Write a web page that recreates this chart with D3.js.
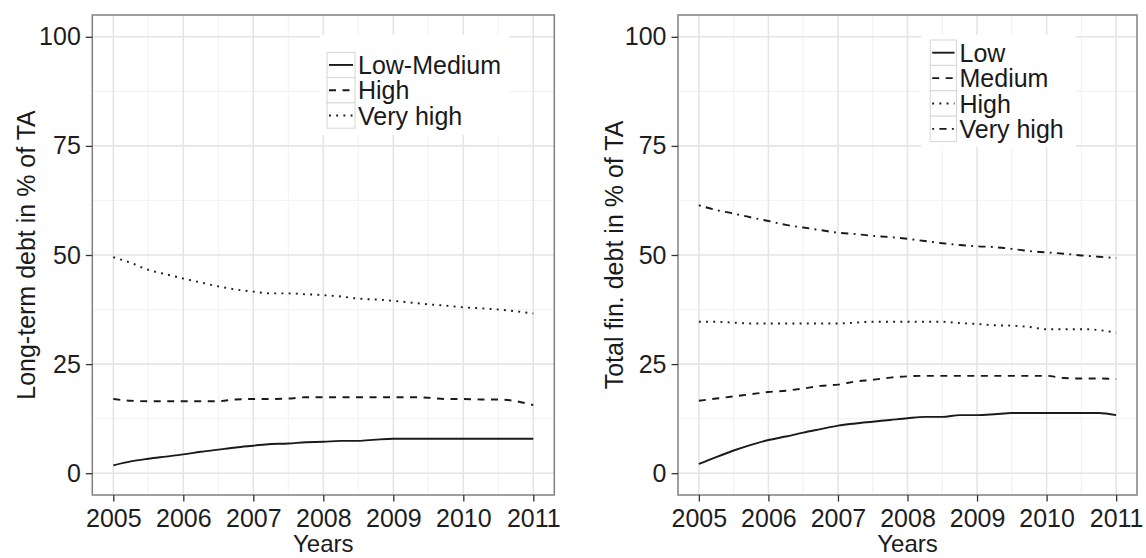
<!DOCTYPE html>
<html>
<head>
<meta charset="utf-8">
<script src="https://cdn.jsdelivr.net/npm/d3@7"></script>
<style>
  html, body { margin: 0; padding: 0; background: #ffffff; }
  svg { display: block; }
  text { font-family: "Liberation Sans", Arial, sans-serif; }
</style>
</head>
<body>
<svg id="chart" width="1146" height="558"></svg>
<script>
// Observation times (quarter-year steps)
const years = [2005, 2005.25, 2005.5, 2005.75, 2006, 2006.25, 2006.5, 2006.75,
               2007, 2007.25, 2007.5, 2007.75, 2008, 2008.25, 2008.5, 2008.75,
               2009, 2009.25, 2009.5, 2009.75, 2010, 2010.25, 2010.5, 2010.75, 2011];

// Long-term debt in % of total assets, by leverage group
const ltLowMedium = [1.8, 2.7, 3.3, 3.8, 4.3, 4.9, 5.4, 5.9, 6.3, 6.7, 6.8, 7.1, 7.2,
                     7.4, 7.4, 7.7, 7.9, 7.9, 7.9, 7.9, 7.9, 7.9, 7.9, 7.9, 7.9];
const ltHigh      = [17.0, 16.6, 16.5, 16.5, 16.5, 16.5, 16.5, 16.9, 17.0, 17.0, 17.1, 17.4, 17.4,
                     17.4, 17.4, 17.4, 17.4, 17.4, 17.3, 17.0, 17.0, 16.9, 16.9, 16.5, 15.6];
const ltVeryHigh  = [49.5, 48.2, 46.6, 45.6, 44.6, 43.7, 42.8, 42.1, 41.6, 41.2, 41.2, 41.0, 40.8,
                     40.5, 40.0, 39.8, 39.5, 39.1, 38.7, 38.4, 38.0, 37.8, 37.5, 37.1, 36.6];

// Total financial debt in % of total assets, by leverage group
const tfLow      = [2.1, 3.7, 5.2, 6.5, 7.6, 8.4, 9.3, 10.1, 10.9, 11.4, 11.8, 12.2, 12.6,
                    12.9, 12.9, 13.3, 13.3, 13.5, 13.8, 13.8, 13.8, 13.8, 13.8, 13.8, 13.3];
const tfMedium   = [16.6, 17.1, 17.6, 18.1, 18.6, 18.9, 19.4, 20.0, 20.3, 21.0, 21.4, 21.9, 22.2,
                    22.3, 22.3, 22.3, 22.3, 22.3, 22.3, 22.3, 22.3, 21.8, 21.7, 21.7, 21.6];
const tfHigh     = [34.7, 34.7, 34.5, 34.3, 34.3, 34.3, 34.3, 34.3, 34.3, 34.5, 34.7, 34.7, 34.7,
                    34.7, 34.7, 34.4, 34.2, 33.9, 33.8, 33.5, 33.0, 33.0, 33.0, 32.8, 32.2];
const tfVeryHigh = [61.4, 60.3, 59.5, 58.6, 57.8, 56.9, 56.3, 55.7, 55.1, 54.8, 54.4, 54.1, 53.7,
                    53.2, 52.7, 52.3, 52.0, 51.8, 51.4, 50.9, 50.6, 50.3, 49.9, 49.6, 49.3];

// Axis tick labels
const xTicks = [2005, 2006, 2007, 2008, 2009, 2010, 2011];
const yTicks = [0, 25, 50, 75, 100];
const xMinor = [2005.5, 2006.5, 2007.5, 2008.5, 2009.5, 2010.5];
const yMinor = [12.5, 37.5, 62.5, 87.5];

// Series names
const ltNames = ["Low-Medium", "High", "Very high"];
const tfNames = ["Low", "Medium", "High", "Very high"];

// Line types (solid, dashed, dotted, dot-dash)
const dashSolid = null, dashDashed = "7,6.5", dashDotted = "1.9,5.3", dashDotDash = "1.9,5.3,7.2,5.3";

const svg = d3.select("#chart");
const ink = "#1a1a1a";

function drawPanel(cfg) {
  const x = d3.scaleLinear().domain([2004.7, 2011.3]).range([cfg.left, cfg.right]);
  const y = d3.scaleLinear().domain([-5, 105]).range([cfg.bottom, cfg.top]);
  const g = svg.append("g");

  // Panel background
  g.append("rect").attr("x", cfg.left).attr("y", cfg.top)
    .attr("width", cfg.right - cfg.left).attr("height", cfg.bottom - cfg.top)
    .attr("fill", "#ffffff");

  // Minor grid
  g.selectAll(".vminor").data(xMinor).enter().append("line")
    .attr("x1", d => x(d)).attr("x2", d => x(d)).attr("y1", cfg.top).attr("y2", cfg.bottom)
    .attr("stroke", "#f3f3f3").attr("stroke-width", 1.2);
  g.selectAll(".hminor").data(yMinor).enter().append("line")
    .attr("y1", d => y(d)).attr("y2", d => y(d)).attr("x1", cfg.left).attr("x2", cfg.right)
    .attr("stroke", "#f3f3f3").attr("stroke-width", 1.2);
  // Major grid
  g.selectAll(".vmajor").data(xTicks).enter().append("line")
    .attr("x1", d => x(d)).attr("x2", d => x(d)).attr("y1", cfg.top).attr("y2", cfg.bottom)
    .attr("stroke", "#e5e5e5").attr("stroke-width", 1.6);
  g.selectAll(".hmajor").data(yTicks).enter().append("line")
    .attr("y1", d => y(d)).attr("y2", d => y(d)).attr("x1", cfg.left).attr("x2", cfg.right)
    .attr("stroke", "#e5e5e5").attr("stroke-width", 1.6);

  // Series lines
  const line = d3.line().x((d, i) => x(years[i])).y(d => y(d)).curve(d3.curveMonotoneX);
  cfg.series.forEach((s, i) => {
    g.append("path").datum(s).attr("d", line)
      .attr("fill", "none").attr("stroke", ink).attr("stroke-width", 1.9)
      .attr("stroke-dasharray", cfg.dashes[i]);
  });

  // Legend
  const L = cfg.legend;
  const lg = g.append("g");
  lg.append("rect").attr("x", L.bx0).attr("y", L.by0)
    .attr("width", L.bx1 - L.bx0).attr("height", L.by1 - L.by0).attr("fill", "#ffffff");
  cfg.names.forEach((name, i) => {
    const ky = L.ky + i * L.kh;
    lg.append("rect").attr("x", L.kx).attr("y", ky).attr("width", L.kw).attr("height", L.kh)
      .attr("fill", "#ffffff").attr("stroke", "#d6d6d6").attr("stroke-width", 1);
    lg.append("line").attr("x1", L.kx + 2).attr("x2", L.kx + L.kw - 2)
      .attr("y1", ky + L.kh / 2).attr("y2", ky + L.kh / 2)
      .attr("stroke", ink).attr("stroke-width", 1.9).attr("stroke-dasharray", cfg.dashes[i]);
    lg.append("text").attr("x", L.kx + L.kw + 3).attr("y", ky + L.kh / 2 + 9)
      .attr("font-size", 25).attr("fill", ink).text(name);
  });

  // Panel border
  g.append("rect").attr("x", cfg.left).attr("y", cfg.top)
    .attr("width", cfg.right - cfg.left).attr("height", cfg.bottom - cfg.top)
    .attr("fill", "none").attr("stroke", "#808080").attr("stroke-width", 1.5);

  // Axes
  const ax = g.append("g").attr("transform", `translate(0,${cfg.bottom})`)
    .call(d3.axisBottom(x).tickValues(xTicks).tickFormat(d3.format("d")).tickSize(6.5).tickPadding(8));
  const ay = g.append("g").attr("transform", `translate(${cfg.left},0)`)
    .call(d3.axisLeft(y).tickValues(yTicks).tickSize(6.5).tickPadding(5));
  [ax, ay].forEach(a => {
    a.select(".domain").remove();
    a.selectAll(".tick line").attr("stroke", "#333333").attr("stroke-width", 1.3);
    a.selectAll(".tick text").attr("font-size", 25).attr("fill", "#1e1e1e")
      .attr("font-family", '"Liberation Sans", Arial, sans-serif');
  });

  // Axis titles
  g.append("text").attr("x", (cfg.left + cfg.right) / 2).attr("y", 552)
    .attr("text-anchor", "middle").attr("font-size", 24).attr("fill", ink).text("Years");
  g.append("text")
    .attr("transform", `translate(${cfg.titleX},${(cfg.top + cfg.bottom) / 2}) rotate(-90)`)
    .attr("text-anchor", "middle").attr("font-size", 25).attr("fill", ink).text(cfg.yTitle);
}

drawPanel({
  left: 92.3, right: 554.3, top: 15, bottom: 495, titleX: 35,
  yTitle: "Long-term debt in % of TA",
  series: [ltLowMedium, ltHigh, ltVeryHigh],
  names: ltNames,
  dashes: [dashSolid, dashDashed, dashDotted],
  legend: { bx0: 320, bx1: 509, by0: 35, by1: 135, kx: 327, kw: 28, ky: 52.3, kh: 25.3 }
});

drawPanel({
  left: 678, right: 1137, top: 15, bottom: 495, titleX: 623,
  yTitle: "Total fin. debt in % of TA",
  series: [tfLow, tfMedium, tfHigh, tfVeryHigh],
  names: tfNames,
  dashes: [dashSolid, dashDashed, dashDotted, dashDotDash],
  legend: { bx0: 921, bx1: 1076, by0: 35, by1: 147, kx: 930.2, kw: 26.3, ky: 40, kh: 25.4 }
});
</script>
</body>
</html>
